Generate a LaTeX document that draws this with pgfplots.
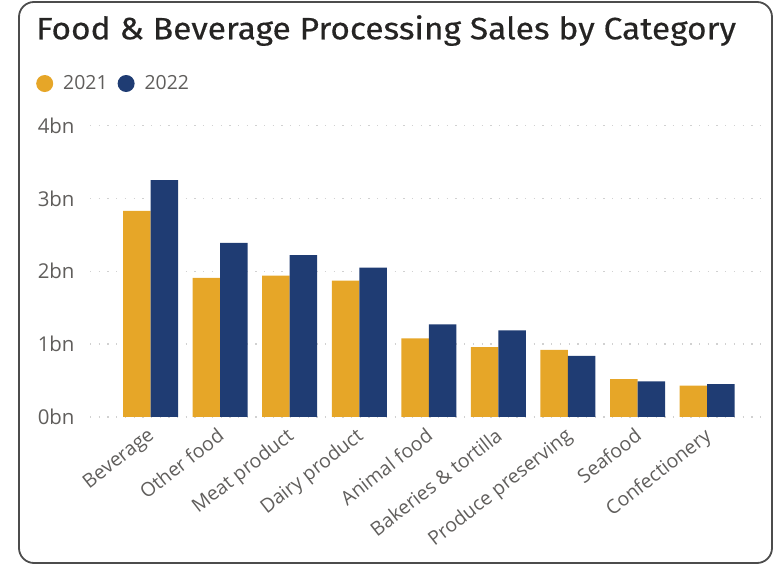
\documentclass[border=0pt]{standalone}
\usepackage{pgfplots}
\pgfplotsset{compat=1.18}
\usepackage{fontspec}
\setmainfont{Open Sans}
\newfontfamily\titlefont[FakeStretch=1.085, FakeBold=0.4]{Fira Sans}
\definecolor{gold}{HTML}{E6A628}
\definecolor{navy}{HTML}{1F3C73}
\definecolor{lbl}{HTML}{605E5C}
\definecolor{ttl}{HTML}{252423}
\begin{document}
\begin{tikzpicture}[x=1bp,y=1bp]
\path[use as bounding box] (0,0) rectangle (776,567);
\draw[line width=1.8bp, color=black!70, rounded corners=15bp] (19,4) rectangle (772,565);
\node[anchor=base west, inner sep=0, text=ttl, font=\titlefont\fontsize{31}{34}\selectfont] at (36,527.7) {Food \& Beverage Processing Sales by Category};
\begin{axis}[
  at={(90bp,150bp)}, anchor=south west,
  scale only axis, width=670bp, height=291.5bp,
  ymin=0, ymax=4,
  xmin=-0.87, xmax=8.76,
  ybar=0pt, bar width=27.5bp,
  axis line style={draw=none},
  major tick length=0pt,
  ytick={0,1,2,3,4},
  yticklabels={0bn,1bn,2bn,3bn,4bn},
  yticklabel style={font=\fontsize{20.5}{22}\selectfont, text=lbl, xshift=-12bp},
  xtick={0,...,8},
  xticklabels={Beverage,Other food,Meat product,Dairy product,Animal food,Bakeries \& tortilla,Produce preserving,Seafood,Confectionery},
  xticklabel style={font=\fontsize{19.5}{21}\selectfont, text=lbl, rotate=38, anchor=north east, inner sep=1bp, xshift=-8bp, yshift=-4bp},
  ymajorgrids,
  grid style={line width=1.3bp, color=black!18, dash pattern=on 1.3bp off 7.4bp},
  legend style={at={(rel axis cs:-0.0806,1.144)}, anchor=west, draw=none, fill=none,
    font=\fontsize{19.5}{21}\selectfont, text=lbl, column sep=9bp, inner sep=0pt,
    nodes={inner sep=1bp}},
  legend columns=2,
  legend image code/.code={\fill (0.3cm,0cm) circle (8.5bp);},
  legend cell align=left,
]
\addplot[fill=gold, draw=none] coordinates {(0,2.83) (1,1.91) (2,1.94) (3,1.87) (4,1.08) (5,0.96) (6,0.92) (7,0.52) (8,0.43)};
\addlegendentry{2021}
\addplot[fill=navy, draw=none] coordinates {(0,3.25) (1,2.39) (2,2.22) (3,2.05) (4,1.27) (5,1.19) (6,0.84) (7,0.49) (8,0.45)};
\addlegendentry{2022}
\end{axis}
\end{tikzpicture}
\end{document}
